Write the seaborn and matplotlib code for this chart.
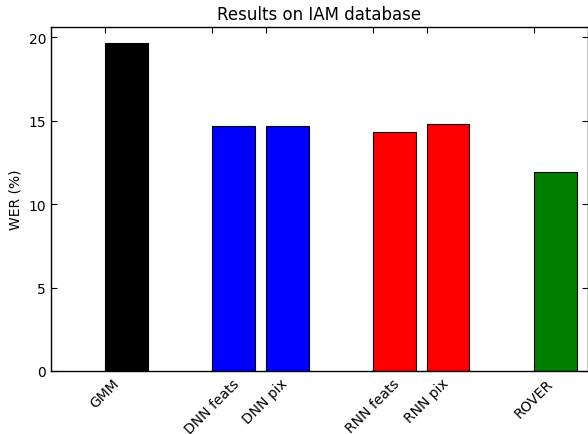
import matplotlib
matplotlib.use("Agg")
import matplotlib.pyplot as plt
import seaborn as sns
import numpy as np

labels = ["GMM", "DNN feats", "DNN pix", "RNN feats", "RNN pix", "ROVER"]
positions = [0, 2, 3, 5, 6, 8]
values = [19.64, 14.70, 14.70, 14.34, 14.80, 11.94]
colors = ["#000000", "#0000ff", "#0000ff", "#ff0000", "#ff0000", "#008000"]

sns.set_style("white")
plt.rcParams['font.family'] = ['DejaVu Sans']
plt.rcParams['text.color'] = 'black'
plt.rcParams['axes.labelcolor'] = 'black'

fig = plt.figure(figsize=(5.88, 4.35), dpi=100)
ax = fig.add_axes([51/588, 63/435, 536.5/588, 344/435])

bar_w = 0.8
centers = [p + bar_w / 2 for p in positions]
sns.barplot(x=centers, y=values, hue=labels, palette=colors, native_scale=True,
            width=bar_w, edgecolor="black", linewidth=0.8, saturation=1,
            legend=False, ax=ax)

ax.set_xlim(-1, 9)
ax.set_ylim(0, max(values) * 1.05)
ax.set_xticks(positions)
ax.set_xticklabels(labels, rotation=45, ha="center", fontsize=10)
ax.set_yticks([0, 5, 10, 15, 20])
ax.set_yticklabels(["0", "5", "10", "15", "20"], fontsize=10)
ax.set_ylabel("WER (%)", fontsize=10, color="black")
ax.set_xlabel("")
ax.set_title("Results on IAM database", fontsize=12, color="black")

for s in ax.spines.values():
    s.set_visible(True)
    s.set_color("black")
    s.set_linewidth(1.0)
ax.tick_params(direction="in", length=4, width=0.8, top=True, right=True,
               bottom=True, left=True, colors="black", labelcolor="black")

fig.savefig("out.png", dpi=100, facecolor="white")
